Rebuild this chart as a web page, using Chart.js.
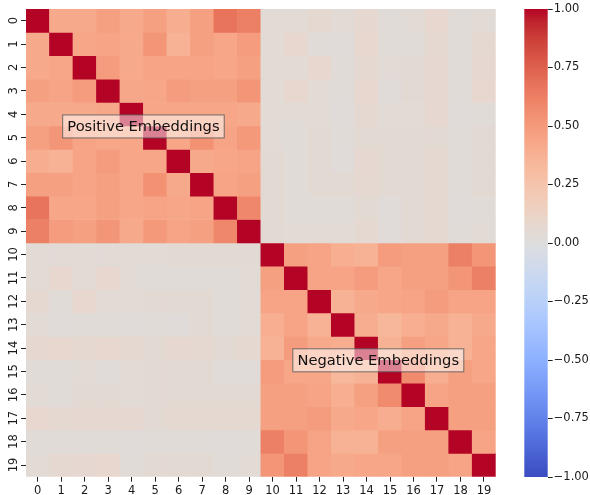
<!DOCTYPE html>
<html><head><meta charset="utf-8">
<script src="https://cdn.jsdelivr.net/npm/chart.js@4/dist/chart.umd.min.js"></script>
<style>
html,body{margin:0;padding:0;background:#fff;}
#wrap{position:relative;width:590px;height:495px;}
canvas{position:absolute;left:0;top:0;}
</style></head><body>
<div id="wrap"><canvas id="heat" width="590" height="495"></canvas><canvas id="cbar" width="590" height="495"></canvas></div>
<script>
// ---- data ----
const colLabels = ['0','1','2','3','4','5','6','7','8','9','10','11','12','13','14','15','16','17','18','19'];
const rowLabels = ['0','1','2','3','4','5','6','7','8','9','10','11','12','13','14','15','16','17','18','19'];
const matrix = [
 [1.00,0.42,0.42,0.47,0.42,0.47,0.40,0.47,0.67,0.62, 0.04,0.04,0.06,0.04,0.07,0.03,0.04,0.08,0.03,0.04],
 [0.42,1.00,0.44,0.45,0.42,0.52,0.37,0.47,0.44,0.49, 0.04,0.08,0.03,0.02,0.08,0.03,0.03,0.06,0.03,0.06],
 [0.42,0.44,1.00,0.49,0.42,0.45,0.45,0.45,0.44,0.47, 0.04,0.04,0.08,0.03,0.06,0.04,0.05,0.07,0.03,0.07],
 [0.47,0.45,0.49,1.00,0.43,0.44,0.49,0.47,0.47,0.52, 0.04,0.08,0.04,0.03,0.08,0.02,0.05,0.07,0.03,0.08],
 [0.42,0.42,0.42,0.43,1.00,0.44,0.44,0.44,0.44,0.42, 0.04,0.04,0.04,0.02,0.06,0.04,0.04,0.07,0.02,0.03],
 [0.47,0.52,0.45,0.44,0.44,1.00,0.44,0.54,0.45,0.50, 0.04,0.03,0.05,0.03,0.05,0.05,0.05,0.05,0.03,0.05],
 [0.40,0.37,0.45,0.49,0.44,0.44,1.00,0.42,0.44,0.45, 0.05,0.03,0.05,0.02,0.07,0.05,0.05,0.06,0.03,0.05],
 [0.47,0.47,0.45,0.47,0.44,0.54,0.42,1.00,0.45,0.47, 0.05,0.03,0.05,0.05,0.06,0.05,0.05,0.06,0.03,0.05],
 [0.67,0.44,0.44,0.47,0.44,0.45,0.44,0.45,1.00,0.59, 0.05,0.03,0.03,0.03,0.05,0.02,0.05,0.06,0.02,0.03],
 [0.62,0.49,0.47,0.52,0.42,0.50,0.45,0.47,0.59,1.00, 0.05,0.04,0.04,0.04,0.06,0.02,0.05,0.06,0.03,0.04],
 [0.04,0.04,0.04,0.04,0.04,0.04,0.05,0.05,0.05,0.05, 1.00,0.47,0.45,0.39,0.37,0.49,0.47,0.47,0.62,0.52],
 [0.04,0.08,0.04,0.08,0.04,0.03,0.03,0.03,0.03,0.04, 0.47,1.00,0.45,0.45,0.49,0.44,0.47,0.47,0.52,0.62],
 [0.06,0.03,0.08,0.04,0.04,0.05,0.05,0.05,0.03,0.04, 0.45,0.45,1.00,0.37,0.42,0.44,0.45,0.49,0.45,0.45],
 [0.04,0.02,0.03,0.03,0.02,0.03,0.02,0.05,0.03,0.04, 0.39,0.45,0.37,1.00,0.40,0.34,0.39,0.42,0.37,0.42],
 [0.07,0.08,0.06,0.08,0.06,0.05,0.07,0.06,0.05,0.06, 0.37,0.49,0.42,0.40,1.00,0.37,0.47,0.44,0.37,0.44],
 [0.03,0.03,0.04,0.02,0.04,0.05,0.05,0.05,0.02,0.02, 0.49,0.44,0.44,0.34,0.37,1.00,0.57,0.40,0.47,0.44],
 [0.04,0.03,0.05,0.05,0.04,0.05,0.05,0.05,0.05,0.05, 0.47,0.47,0.45,0.39,0.47,0.57,1.00,0.45,0.47,0.47],
 [0.08,0.06,0.07,0.07,0.07,0.05,0.06,0.06,0.06,0.06, 0.47,0.47,0.49,0.42,0.44,0.40,0.45,1.00,0.47,0.47],
 [0.03,0.03,0.03,0.03,0.02,0.03,0.03,0.03,0.02,0.03, 0.62,0.52,0.45,0.37,0.37,0.47,0.47,0.47,1.00,0.45],
 [0.04,0.06,0.07,0.08,0.03,0.05,0.05,0.05,0.03,0.04, 0.52,0.62,0.45,0.42,0.44,0.44,0.47,0.47,0.45,1.00]
];
const annoTexts = ['Positive Embeddings', 'Negative Embeddings'];
const annoX = [5, 15];
const annoY = [5, 15];
const colorRange = [-1, 1];
const colorStep = 0.25;

// ---- coolwarm colormap ----
const CW = [
 [59,76,192],[68,90,204],[77,104,215],[87,117,225],[98,130,234],[108,142,241],[119,154,247],[130,165,251],
 [141,176,254],[152,185,255],[163,194,255],[174,201,253],[184,208,249],[194,213,244],[204,217,238],[213,219,230],
 [221,221,221],[229,216,209],[236,211,197],[241,204,185],[245,196,173],[247,187,160],[247,177,148],[247,166,135],
 [244,154,123],[241,141,111],[236,127,99],[229,112,88],[222,96,77],[213,80,66],[203,62,56],[192,40,47],[180,4,38]
];
function cwT(t){
  t = Math.max(0, Math.min(1, t));
  const f = t * (CW.length - 1);
  const i = Math.min(CW.length - 2, Math.floor(f));
  const a = f - i;
  const c = [0,1,2].map(k => Math.round(CW[i][k] + (CW[i+1][k] - CW[i][k]) * a));
  return `rgb(${c[0]},${c[1]},${c[2]})`;
}
function coolwarm(v){ return cwT((v - colorRange[0]) / (colorRange[1] - colorRange[0])); }

const FONT = {family: '"DejaVu Sans", sans-serif', size: 11.5};
const TXT = '#1a1a1a';

const annoPlugin = {
  id: 'anno',
  afterDraw(chart){
    const ctx = chart.ctx, xs = chart.scales.x, ys = chart.scales.y;
    ctx.save();
    ctx.font = '14.7px "DejaVu Sans", sans-serif';
    ctx.textAlign = 'center';
    ctx.textBaseline = 'middle';
    annoTexts.forEach((t, i) => {
      const px = xs.getPixelForValue(annoX[i] - 0.5);
      const py = ys.getPixelForValue(annoY[i]) + 0.5;
      const w = ctx.measureText(t).width + 9.4;
      const h = 23;
      ctx.fillStyle = 'rgba(255,255,255,0.5)';
      ctx.fillRect(px - w/2, py - h/2, w, h);
      ctx.strokeStyle = 'rgba(90,90,90,0.7)';
      ctx.lineWidth = 1.2;
      ctx.strokeRect(px - w/2, py - h/2, w, h);
      ctx.fillStyle = '#111';
      ctx.fillText(t, px, py + 0.5);
    });
    ctx.restore();
  }
};

new Chart(document.getElementById('heat'), {
  type: 'bar',
  data: {
    labels: colLabels,
    datasets: rowLabels.map((lab, r) => ({
      label: lab,
      data: colLabels.map(() => 1),
      backgroundColor: matrix[r].map(coolwarm),
      borderWidth: 0,
      barPercentage: 1,
      categoryPercentage: 1,
      stack: 's'
    }))
  },
  options: {
    responsive: false,
    animation: false,
    devicePixelRatio: 1,
    layout: {padding: {left: 0, top: 9, right: 94.3, bottom: 0}},
    plugins: {legend: {display: false}, tooltip: {enabled: false}},
    scales: {
      x: {
        type: 'category', stacked: true, offset: true,
        grid: {display: true, drawOnChartArea: false, drawTicks: true, tickLength: 5, offset: false, color: '#222', lineWidth: 1},
        border: {display: false},
        ticks: {font: FONT, color: TXT, padding: 2, maxRotation: 0, minRotation: 0, autoSkip: false},
        afterFit: s => { s.height = 18.3; }
      },
      y: {
        type: 'linear', stacked: true, min: 0, max: 20, reverse: true,
        afterBuildTicks: s => { s.ticks = rowLabels.map((_, i) => ({value: i + 0.5})); },
        ticks: {callback: (v, i) => rowLabels[i], minRotation: 90, maxRotation: 90, crossAlign: 'center', padding: 0, font: FONT, color: TXT, autoSkip: false},
        grid: {display: true, drawOnChartArea: false, drawTicks: true, tickLength: 5, color: '#222', lineWidth: 1},
        border: {display: false},
        afterFit: s => { s.width = 26; }
      }
    }
  },
  plugins: [annoPlugin]
});

function fmt(v){
  const s = (Math.abs(v) < 1e-9 ? 0 : v).toFixed(2);
  return s.replace('-', '\u2212');
}

new Chart(document.getElementById('cbar'), {
  type: 'bar',
  data: {
    labels: [''],
    datasets: [{
      data: [colorRange],
      backgroundColor: (c) => {
        const ca = c.chart.chartArea;
        if (!ca) return '#ddd';
        const g = c.chart.ctx.createLinearGradient(0, ca.bottom, 0, ca.top);
        CW.forEach((_, i) => g.addColorStop(i / (CW.length - 1), cwT(i / (CW.length - 1))));
        return g;
      },
      borderWidth: 0,
      barPercentage: 1,
      categoryPercentage: 1
    }]
  },
  options: {
    responsive: false,
    animation: false,
    devicePixelRatio: 1,
    layout: {padding: {left: 524.3, right: 0, top: 9, bottom: 18}},
    plugins: {legend: {display: false}, tooltip: {enabled: false}},
    scales: {
      x: {display: false},
      y: {
        position: 'right', min: colorRange[0], max: colorRange[1],
        ticks: {stepSize: colorStep, callback: v => fmt(v), padding: 1, font: FONT, color: TXT},
        grid: {display: true, drawOnChartArea: false, drawTicks: true, tickLength: 5, color: '#222', lineWidth: 1},
        border: {display: false},
        afterFit: s => { s.width = 42.3; }
      }
    }
  }
});
</script>
</body></html>
